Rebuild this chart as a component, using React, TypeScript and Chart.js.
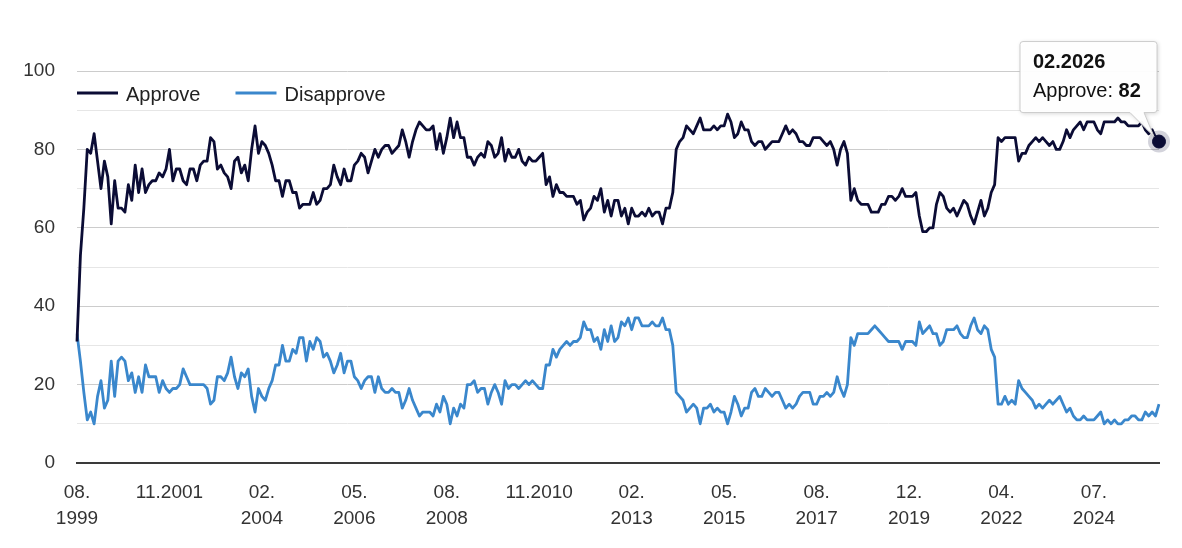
import React, { useEffect, useRef } from 'react';
import { Chart, registerables } from 'chart.js';

Chart.register(...registerables);

// monthly survey values, 08.1999 .. 02.2026
const approveValues = [
  31, 53, 65, 80, 79, 84, 77, 70, 77, 73,
  61, 72, 65, 65, 64, 71, 67, 76, 69, 75,
  69, 71, 72, 72, 74, 73, 75, 80, 72, 75,
  75, 72, 71, 75, 75, 72, 76, 77, 77, 83,
  82, 75, 76, 74, 73, 70, 77, 78, 74, 76,
  72, 80, 86, 79, 82, 81, 79, 76, 72, 72,
  68, 72, 72, 69, 69, 65, 66, 66, 66, 69,
  66, 67, 70, 70, 71, 76, 73, 71, 75, 72,
  72, 76, 77, 79, 78, 74, 77, 80, 78, 80,
  81, 81, 79, 80, 81, 85, 82, 78, 82, 85,
  87, 86, 85, 85, 86, 80, 84, 79, 83, 88,
  83, 87, 83, 83, 78, 78, 76, 78, 79, 78,
  82, 81, 78, 79, 83, 77, 80, 78, 78, 80,
  77, 76, 78, 77, 77, 78, 79, 71, 73, 68,
  71, 69, 69, 68, 68, 68, 66, 67, 62, 64,
  65, 68, 67, 70, 64, 67, 63, 67, 67, 63,
  65, 61, 65, 63, 63, 64, 63, 65, 63, 64,
  64, 61, 65, 65, 69, 80, 82, 83, 86, 85,
  84, 86, 88, 85, 85, 85, 86, 85, 86, 86,
  89, 87, 83, 84, 87, 85, 85, 82, 81, 82,
  82, 80, 81, 82, 82, 82, 84, 86, 84, 85,
  84, 82, 82, 81, 81, 83, 83, 83, 82, 81,
  82, 80, 76, 80, 82, 79, 67, 70, 67, 66,
  66, 66, 64, 64, 64, 66, 66, 68, 68, 67,
  68, 70, 68, 68, 68, 69, 63, 59, 59, 60,
  60, 66, 69, 68, 65, 64, 65, 63, 65, 67,
  66, 63, 61, 64, 67, 63, 65, 69, 71, 83,
  82, 83, 83, 83, 83, 77, 79, 79, 81, 82,
  83, 82, 83, 82, 81, 82, 80, 80, 82, 85,
  83, 85, 86, 87, 85, 87, 87, 87, 85, 84,
  87, 87, 87, 87, 88, 87, 87, 86, 86, 86,
  86, 87, 85, 84, 85, 83, 82,
];

const disapproveValues = [
  33, 26, 18, 11, 13, 10, 17, 21, 14, 16,
  26, 17, 26, 27, 26, 21, 23, 18, 22, 18,
  25, 22, 22, 22, 18, 21, 19, 18, 19, 19,
  20, 24, 22, 20, 20, 20, 20, 20, 19, 15,
  16, 22, 22, 21, 23, 27, 22, 19, 23, 22,
  24, 17, 13, 19, 17, 16, 19, 21, 25, 25,
  30, 26, 26, 29, 28, 32, 32, 26, 31, 29,
  32, 31, 27, 28, 26, 23, 25, 28, 23, 26,
  26, 22, 21, 19, 21, 22, 22, 18, 22, 19,
  18, 18, 19, 18, 18, 14, 16, 19, 16, 14,
  12, 13, 13, 13, 12, 15, 13, 17, 15, 10,
  14, 12, 15, 14, 20, 20, 21, 18, 19, 19,
  15, 18, 20, 18, 15, 21, 19, 20, 20, 19,
  20, 21, 20, 21, 20, 19, 19, 25, 25, 29,
  27, 29, 30, 31, 30, 31, 31, 32, 36, 34,
  34, 31, 32, 29, 34, 31, 35, 31, 32, 36,
  35, 37, 34, 37, 37, 35, 35, 35, 36, 35,
  35, 37, 34, 34, 30, 18, 17, 16, 13, 14,
  15, 14, 10, 14, 14, 15, 13, 14, 13, 13,
  10, 13, 17, 15, 12, 14, 14, 18, 19, 17,
  17, 19, 18, 17, 18, 18, 16, 14, 15, 14,
  15, 17, 18, 18, 18, 15, 15, 17, 17, 18,
  17, 18, 22, 19, 17, 20, 32, 30, 33, 33,
  33, 33, 34, 35, 34, 33, 32, 31, 31, 31,
  31, 29, 31, 31, 31, 30, 36, 33, 34, 35,
  33, 33, 30, 31, 34, 34, 34, 35, 33, 32,
  32, 35, 37, 34, 33, 35, 34, 29, 27, 15,
  15, 17, 15, 16, 15, 21, 19, 18, 17, 16,
  14, 15, 14, 15, 16, 15, 16, 17, 15, 13,
  14, 12, 11, 11, 12, 11, 11, 11, 12, 13,
  10, 11, 10, 11, 10, 10, 11, 11, 12, 12,
  11, 11, 13, 12, 13, 12, 15,
];

const seriesNames = ['Approve', 'Disapprove'];
const seriesColors = ['#0b0c35', '#3a87cc'];

const firstYear = 1999;
const firstMonth = 8;
const missingMonths = ['02.2019', '04.2020'];

const xTickStep = 27;
const xTickLabels: (string | string[])[] = [
  ['08.', '1999'], '11.2001', ['02.', '2004'], ['05.', '2006'],
  ['08.', '2008'], '11.2010', ['02.', '2013'], ['05.', '2015'],
  ['08.', '2017'], ['12.', '2019'], ['04.', '2022'], ['07.', '2024'],
];

const yTicks = [0, 20, 40, 60, 80, 100];

const FONT = '"Liberation Sans", Arial, Helvetica, sans-serif';

function buildMonthLabels(count: number) {
  const out: string[] = [];
  let y = firstYear;
  let m = firstMonth;
  while (out.length < count) {
    const s = String(m).padStart(2, '0') + '.' + y;
    if (!missingMonths.includes(s)) out.push(s);
    m++;
    if (m > 12) { m = 1; y++; }
  }
  return out;
}

const monthLabels = buildMonthLabels(approveValues.length);
const lastIdx = approveValues.length - 1;

const overlayPlugin = {
  id: 'overlay',
  beforeDatasetsDraw(chart: any) {
    const el = chart.getDatasetMeta(0).data[lastIdx];
    if (!el) return;
    const ctx = chart.ctx;
    ctx.save();
    ctx.fillStyle = 'rgba(11,12,53,0.18)';
    ctx.beginPath();
    ctx.arc(el.x, el.y, 11, 0, Math.PI * 2);
    ctx.fill();
    ctx.restore();
  },
  afterDraw(chart: any) {
    const ctx = chart.ctx;
    const area = chart.chartArea;
    ctx.save();

    // legend
    let lx = area.left;
    const ly = 93;
    ctx.font = '20px ' + FONT;
    ctx.textBaseline = 'alphabetic';
    chart.data.datasets.forEach((ds: any) => {
      ctx.strokeStyle = ds.borderColor;
      ctx.lineWidth = 3;
      ctx.beginPath();
      ctx.moveTo(lx, ly);
      ctx.lineTo(lx + 41, ly);
      ctx.stroke();
      ctx.fillStyle = '#222222';
      ctx.fillText(ds.label, lx + 49, ly + 8);
      lx += 49 + ctx.measureText(ds.label).width + 35;
    });

    // tooltip on last point
    const el = chart.getDatasetMeta(0).data[lastIdx];
    if (el) {
      const px = el.x;
      const py = el.y;
      const R = px - 2;
      const L = R - 137;
      const T = py - 100;
      const B = py - 29;
      const r = 3;
      ctx.beginPath();
      ctx.moveTo(L + r, T);
      ctx.lineTo(R - r, T);
      ctx.arcTo(R, T, R, T + r, r);
      ctx.lineTo(R, B - r);
      ctx.arcTo(R, B, R - r, B, r);
      ctx.lineTo(px - 15, B);
      ctx.lineTo(px - 5, py - 5);
      ctx.lineTo(px - 29, B);
      ctx.lineTo(L + r, B);
      ctx.arcTo(L, B, L, B - r, r);
      ctx.lineTo(L, T + r);
      ctx.arcTo(L, T, L + r, T, r);
      ctx.closePath();
      ctx.shadowColor = 'rgba(0,0,0,0.18)';
      ctx.shadowBlur = 4;
      ctx.shadowOffsetX = 1;
      ctx.shadowOffsetY = 1;
      ctx.fillStyle = 'rgba(255,255,255,0.97)';
      ctx.fill();
      ctx.shadowColor = 'transparent';
      ctx.strokeStyle = '#cccccc';
      ctx.lineWidth = 1;
      ctx.stroke();

      const ds = chart.data.datasets[0];
      ctx.fillStyle = '#111111';
      ctx.font = 'bold 20px ' + FONT;
      ctx.fillText(chart.data.labels[lastIdx], L + 13, T + 26);
      ctx.font = '20px ' + FONT;
      const prefix = ds.label + ': ';
      ctx.fillText(prefix, L + 13, T + 55);
      const w = ctx.measureText(prefix).width;
      ctx.font = 'bold 20px ' + FONT;
      ctx.fillText(String(ds.data[lastIdx]), L + 13 + w, T + 55);
    }
    ctx.restore();
  },
};

const App = () => {
  const chartRef = useRef<HTMLCanvasElement>(null);
  const chartInstanceRef = useRef<Chart | null>(null);

  useEffect(() => {
    const canvas = chartRef.current;
    if (!canvas) return;
    const ctx2 = canvas.getContext('2d');
    if (!ctx2) return;

    chartInstanceRef.current = new Chart(ctx2, {
      type: 'line',
      data: {
        labels: monthLabels,
        datasets: [
          {
            label: seriesNames[0],
            data: approveValues,
            borderColor: seriesColors[0],
            backgroundColor: seriesColors[0],
            borderWidth: 2.8,
            borderJoinStyle: 'round',
            tension: 0,
            fill: false,
            clip: false,
            pointRadius: approveValues.map((_, i) => (i === lastIdx ? 6.5 : 0)),
            pointBackgroundColor: seriesColors[0],
            pointBorderColor: seriesColors[0],
            pointBorderWidth: 1,
          },
          {
            label: seriesNames[1],
            data: disapproveValues,
            borderColor: seriesColors[1],
            backgroundColor: seriesColors[1],
            borderWidth: 2.8,
            borderJoinStyle: 'round',
            tension: 0,
            fill: false,
            pointRadius: 0,
          },
        ],
      },
      options: {
        animation: false,
        responsive: true,
        maintainAspectRatio: false,
        layout: { padding: { left: 0, right: 23, top: 71, bottom: 0 } },
        plugins: {
          legend: { display: false },
          tooltip: { enabled: false },
        },
        events: [],
        scales: {
          x: {
            grid: { display: false },
            border: { display: true, color: '#3a3a3a', width: 2 },
            ticks: {
              autoSkip: false,
              maxRotation: 0,
              minRotation: 0,
              padding: 9,
              color: '#333333',
              font: { family: FONT, size: 19, lineHeight: 1.37 },
              callback: (_v: any, i: number) =>
                i % xTickStep === 0 && xTickLabels[i / xTickStep] ? xTickLabels[i / xTickStep] : '',
            },
            afterFit: (scale: any) => { scale.height = 85; },
          },
          y: {
            min: 0,
            max: 100,
            border: { display: false },
            grid: {
              drawTicks: false,
              lineWidth: 1,
              color: (c: any) =>
                c.tick.value === 0 ? 'rgba(0,0,0,0)' : c.tick.value % 20 === 0 ? '#cccccc' : '#e6e6e6',
            },
            ticks: {
              stepSize: 10,
              padding: 22,
              color: '#333333',
              font: { family: FONT, size: 19 },
              callback: (v: any) => (yTicks.includes(Number(v)) ? String(v) : ''),
            },
            afterFit: (scale: any) => { scale.width = 77; },
          },
        },
      },
      plugins: [overlayPlugin],
    });

    return () => {
      if (chartInstanceRef.current) {
        chartInstanceRef.current.destroy();
      }
    };
  }, []);

  return (
    <div style={{ position: 'absolute', left: 0, top: 0, width: 1182, height: 548, background: '#ffffff' }}>
      <canvas ref={chartRef} />
    </div>
  );
};

export default App;
